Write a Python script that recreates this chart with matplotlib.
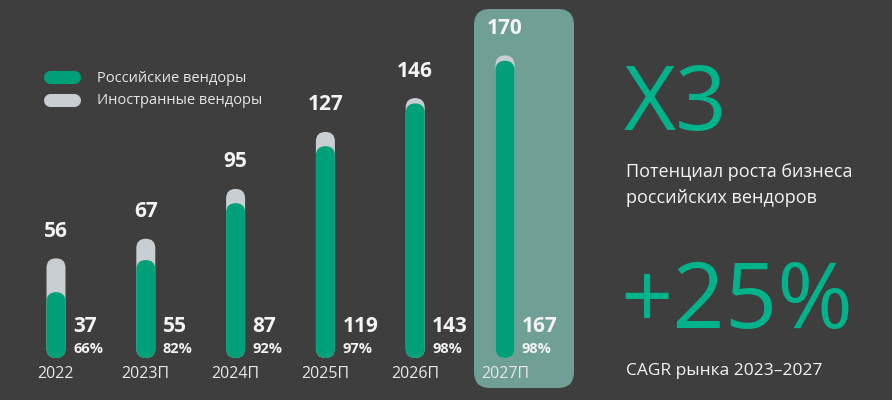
import matplotlib.pyplot as plt
from matplotlib.patches import FancyBboxPatch

years = ["2022", "2023П", "2024П", "2025П", "2026П", "2027П"]
total = [56, 67, 95, 127, 146, 170]
russian = [37, 55, 87, 119, 143, 167]
share = [66, 82, 92, 97, 98, 98]

legend_names = ["Российские вендоры", "Иностранные вендоры"]
big1 = "X3"
note1 = ["Потенциал роста бизнеса", "российских вендоров"]
big2 = "+25%"
note2 = "CAGR рынка 2023–2027"

BG = "#3e3e3e"
GREEN = "#00a078"
GRAY = "#c9ced2"
BOX = "#6f9f95"
ACCENT = "#00b38b"
TXT = "#f4f4f4"

plt.rcParams['font.family'] = ["Open Sans", "DejaVu Sans"]

W, H = 892, 400
step = 89.8      # px between bars
first = 56       # px of first bar center
scale = 1.78     # px per unit
base = 358       # px from top of bar bottoms
bar_w = 19       # px


def main():
	fig = plt.figure(figsize=(W / 100, H / 100), dpi=100)
	fig.patch.set_facecolor(BG)

	# pixel layer for decorations and side texts
	bg = fig.add_axes([0, 0, 1, 1])
	bg.set_xlim(0, W)
	bg.set_ylim(H, 0)
	bg.axis('off')

	ax = fig.add_axes([0, 0, 1, 1])
	ax.patch.set_alpha(0)
	ax.axis('off')
	ax.set_xlim(-first / step, (W - first) / step)
	ax.set_ylim(-(H - base) / scale, base / scale)

	# highlight of the last year
	bg.add_patch(FancyBboxPatch((474, 9), 100, 379, boxstyle="round,pad=0,rounding_size=16",
		facecolor=BOX, edgecolor='none', zorder=0))

	w = bar_w / step
	aspect = step / scale
	for i, year in enumerate(years):
		for val, col, z in [(total[i], GRAY, 2), (russian[i], GREEN, 3)]:
			ax.add_patch(FancyBboxPatch((i - w / 2, 0), w, val,
				boxstyle="round,pad=0,rounding_size=%f" % (w / 2),
				mutation_aspect=aspect, facecolor=col, edgecolor='none', zorder=z))
		ax.annotate(str(total[i]), (i, total[i]), xytext=(0, 27), textcoords='offset pixels',
			ha='center', va='center', fontsize=15, fontweight='bold', color=TXT)
		ax.annotate(str(russian[i]), (i, 0), xytext=(17, 31), textcoords='offset pixels',
			ha='left', va='center', fontsize=15, fontweight='bold', color=TXT)
		ax.annotate("%d%%" % share[i], (i, 0), xytext=(17, 9), textcoords='offset pixels',
			ha='left', va='center', fontsize=10.5, fontweight='bold', color=TXT)
		ax.annotate(year, (i, 0), xytext=(0, -16), textcoords='offset pixels',
			ha='center', va='center', fontsize=11.5, color="#e8e8e8")

	# legend
	for k, (name, col) in enumerate(zip(legend_names, [GREEN, GRAY])):
		y = 77 + k * 23
		bg.plot([49.5, 73.5], [y, y], color=col, lw=9.4, solid_capstyle='round')
		bg.text(97, y + 1, name, ha='left', va='center', fontsize=10.5, color="#e6e6e6")

	# side texts
	bg.text(624, 130, big1, ha='left', va='baseline', fontsize=65, color=ACCENT)
	bg.text(626, 177, note1[0], ha='left', va='baseline', fontsize=13, color=TXT)
	bg.text(626, 203, note1[1], ha='left', va='baseline', fontsize=13, color=TXT)
	bg.text(620, 328, big2, ha='left', va='baseline', fontsize=66, color=ACCENT)
	bg.text(626, 375, note2, ha='left', va='baseline', fontsize=12.5, color=TXT)

	fig.savefig("out.png", dpi=100, facecolor=BG)


if __name__ == "__main__":
	main()
